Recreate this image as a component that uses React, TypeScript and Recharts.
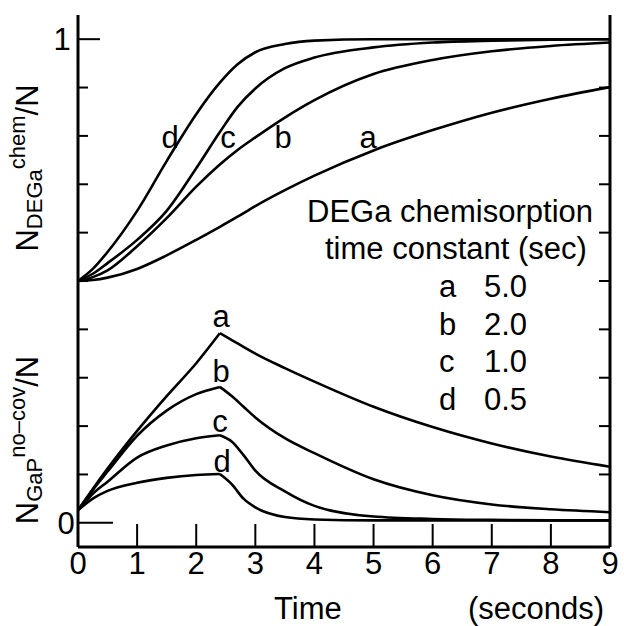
import { LineChart, Line, XAxis, YAxis } from "recharts";

// axis ticks
const xTicks = [0, 1, 2, 3, 4, 5, 6, 7, 8, 9];
const topTicks = [1, 2, 3, 4, 5, 6, 7, 8];
const yTicks = [0, 0.1, 0.2, 0.3, 0.4, 0.5, 0.6, 0.7, 0.8, 0.9, 1];

// upper family: N_DEGa^chem / N
const tTop = [0, 0.25, 0.5, 1, 1.5, 2, 2.4, 2.7, 3, 3.5, 4, 5, 6, 7, 8, 9];
const chemA = [0.5, 0.502, 0.507, 0.525, 0.553, 0.585, 0.612, 0.633, 0.655, 0.688, 0.718, 0.77, 0.812, 0.848, 0.877, 0.901];
const chemB = [0.5, 0.508, 0.522, 0.572, 0.63, 0.695, 0.741, 0.771, 0.797, 0.838, 0.874, 0.928, 0.957, 0.975, 0.986, 0.993];
const chemC = [0.5, 0.515, 0.537, 0.585, 0.645, 0.733, 0.808, 0.86, 0.898, 0.94, 0.962, 0.983, 0.993, 0.997, 0.999, 1];
const chemD = [0.5, 0.525, 0.56, 0.645, 0.748, 0.845, 0.91, 0.948, 0.973, 0.99, 0.997, 1, 1, 1, 1, 1];

// lower family: N_GaP^no-cov / N, rise then decay after the pulse
const tRise = [0, 0.25, 0.5, 1, 1.5, 2, 2.4];
const riseA = [0.026, 0.07, 0.112, 0.19, 0.262, 0.33, 0.392];
const riseB = [0.026, 0.068, 0.106, 0.18, 0.232, 0.266, 0.281];
const riseC = [0.026, 0.06, 0.085, 0.135, 0.16, 0.175, 0.181];
const riseD = [0.026, 0.05, 0.066, 0.083, 0.093, 0.099, 0.101];

const tFall = [2.4, 2.6, 2.8, 3, 3.5, 4, 5, 6, 7, 8, 9];
const fallA = [0.392, 0.378, 0.364, 0.35, 0.32, 0.292, 0.24, 0.198, 0.164, 0.137, 0.116];
const fallB = [0.281, 0.262, 0.24, 0.218, 0.175, 0.144, 0.09, 0.057, 0.038, 0.028, 0.022];
const fallC = [0.181, 0.168, 0.14, 0.108, 0.065, 0.035, 0.013, 0.008, 0.006, 0.005, 0.005];
const fallD = [0.101, 0.08, 0.05, 0.032, 0.012, 0.007, 0.005, 0.005, 0.005, 0.005, 0.005];

const legendRows = [
  ["a", "5.0"],
  ["b", "2.0"],
  ["c", "1.0"],
  ["d", "0.5"],
];

const toPts = (ts: number[], vs: number[]) => ts.map((t, i) => ({ t, v: vs[i] }));

const series = [
  toPts(tTop, chemA),
  toPts(tTop, chemB),
  toPts(tTop, chemC),
  toPts(tTop, chemD),
  toPts(tRise, riseA),
  toPts(tRise, riseB),
  toPts(tRise, riseC),
  toPts(tRise, riseD),
  toPts(tFall, fallA),
  toPts(tFall, fallB),
  toPts(tFall, fallC),
  toPts(tFall, fallD),
];

const FONT = '"Liberation Sans", Arial, Helvetica, sans-serif';
const FS = 31;
const SUB = 22;

function BottomTick(props: any) {
  const { x, y, payload } = props;
  const v = payload.value;
  const edge = v === 0 || v === 9;
  return (
    <g>
      {!edge && <line x1={x} x2={x} y1={y} y2={y - 23} stroke="#000" strokeWidth={2} />}
      <text x={x} y={y + 27} textAnchor="middle" fontSize={FS} fill="#000">
        {v}
      </text>
    </g>
  );
}

function TopTick(props: any) {
  const { x, y } = props;
  return <line x1={x} x2={x} y1={y} y2={y + 24} stroke="#000" strokeWidth={2} />;
}

function LeftTick(props: any) {
  const { x, y, payload } = props;
  const v = payload.value;
  const len = v === 0 ? 35 : v === 1 ? 22 : 10;
  return (
    <g>
      <line x1={x} x2={x + len} y1={y} y2={y} stroke="#000" strokeWidth={2} />
      {v === 0 && (
        <text x={x - 12} y={y + 11} textAnchor="middle" fontSize={FS} fill="#000">
          0
        </text>
      )}
      {v === 1 && (
        <text x={x - 16} y={y + 11} textAnchor="middle" fontSize={FS} fill="#000">
          1
        </text>
      )}
    </g>
  );
}

function RightTick(props: any) {
  const { x, y, payload } = props;
  if (payload.value === 0 || payload.value === 1) return <g />;
  return <line x1={x} x2={x - 11} y1={y} y2={y} stroke="#000" strokeWidth={2} />;
}

export default function App() {
  return (
    <div
      style={{
        position: "absolute",
        left: 0,
        top: 0,
        width: 624,
        height: 626,
        background: "#fff",
        fontFamily: FONT,
      }}
    >
      <LineChart width={624} height={626} margin={{ top: 15, right: 0, bottom: 0, left: 0 }}>
        <XAxis
          xAxisId="b"
          type="number"
          dataKey="t"
          domain={[0, 9]}
          ticks={xTicks}
          interval={0}
          height={79}
          tickSize={0}
          tickMargin={0}
          tickLine={false}
          axisLine={{ stroke: "#000", strokeWidth: 3 }}
          tick={(p: any) => <BottomTick {...p} />}
          allowDataOverflow
        />
        <XAxis
          xAxisId="t"
          orientation="top"
          type="number"
          dataKey="t"
          domain={[0, 9]}
          ticks={topTicks}
          interval={0}
          height={0}
          tickSize={0}
          tickMargin={0}
          tickLine={false}
          axisLine={{ stroke: "#000", strokeWidth: 3 }}
          tick={(p: any) => <TopTick {...p} />}
          allowDataOverflow
        />
        <YAxis
          yAxisId="l"
          type="number"
          domain={[-0.05, 1.05]}
          ticks={yTicks}
          interval={0}
          width={78}
          tickSize={0}
          tickMargin={0}
          tickLine={false}
          axisLine={{ stroke: "#000", strokeWidth: 3 }}
          tick={(p: any) => <LeftTick {...p} />}
          allowDataOverflow
        />
        <YAxis
          yAxisId="r"
          orientation="right"
          type="number"
          domain={[-0.05, 1.05]}
          ticks={yTicks}
          interval={0}
          width={14}
          tickSize={0}
          tickMargin={0}
          tickLine={false}
          axisLine={{ stroke: "#000", strokeWidth: 3 }}
          tick={(p: any) => <RightTick {...p} />}
          allowDataOverflow
        />
        {series.map((d, i) => (
          <Line
            key={i}
            data={d}
            xAxisId="b"
            yAxisId="l"
            dataKey="v"
            type="monotone"
            stroke="#000"
            strokeWidth={2.6}
            dot={false}
            activeDot={false}
            isAnimationActive={false}
          />
        ))}
      </LineChart>

      <svg
        width={624}
        height={626}
        style={{ position: "absolute", left: 0, top: 0, pointerEvents: "none" }}
        fontFamily={FONT}
        fill="#000"
      >
        {/* y-axis titles */}
        <text transform="translate(38,168) rotate(-90)" textAnchor="middle" fontSize={FS}>
          N
          <tspan fontSize={SUB} dy={4}>DEGa</tspan>
          <tspan fontSize={SUB} dy={-17}>chem</tspan>
          <tspan dy={13}>/N</tspan>
        </text>
        <text transform="translate(38,440) rotate(-90)" textAnchor="middle" fontSize={FS}>
          N
          <tspan fontSize={SUB} dy={4}>GaP</tspan>
          <tspan fontSize={SUB} dy={-17}>no–cov</tspan>
          <tspan dy={13}>/N</tspan>
        </text>

        {/* x-axis title */}
        <text x={274} y={619} fontSize={FS}>Time</text>
        <text x={468} y={619} fontSize={FS}>(seconds)</text>

        {/* curve labels, upper family */}
        <text x={170} y={148} textAnchor="middle" fontSize={FS}>d</text>
        <text x={228} y={148} textAnchor="middle" fontSize={FS}>c</text>
        <text x={283} y={148} textAnchor="middle" fontSize={FS}>b</text>
        <text x={368} y={148} textAnchor="middle" fontSize={FS}>a</text>

        {/* curve labels, lower family */}
        <text x={221} y={327} textAnchor="middle" fontSize={FS}>a</text>
        <text x={221} y={382} textAnchor="middle" fontSize={FS}>b</text>
        <text x={220} y={432} textAnchor="middle" fontSize={FS}>c</text>
        <text x={222} y={472} textAnchor="middle" fontSize={FS}>d</text>

        {/* legend */}
        <text x={307} y={222} fontSize={FS}>DEGa chemisorption</text>
        <text x={325} y={259} fontSize={FS}>time constant (sec)</text>
        {legendRows.map(([k, v], i) => (
          <g key={k}>
            <text x={439} y={297 + i * 37.7} fontSize={FS}>{k}</text>
            <text x={484} y={297 + i * 37.7} fontSize={FS}>{v}</text>
          </g>
        ))}
      </svg>
    </div>
  );
}
